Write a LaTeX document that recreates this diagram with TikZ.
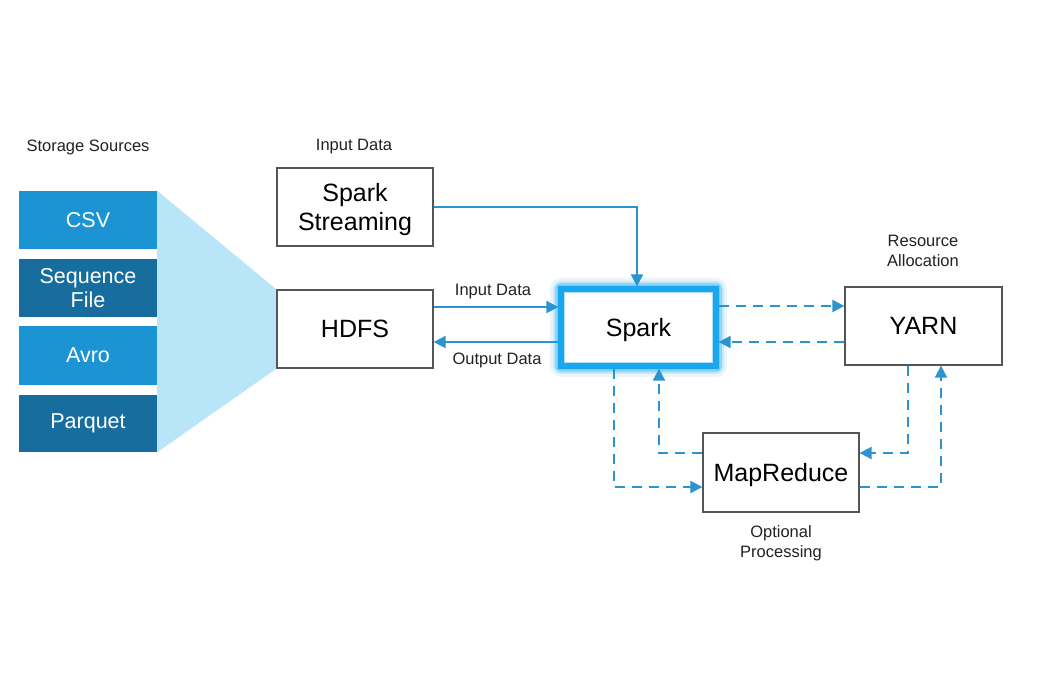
\documentclass[tikz,border=0pt]{standalone}
\usepackage{fontspec}
\setmainfont{Liberation Sans}
\usetikzlibrary{arrows.meta,backgrounds}
\definecolor{lblue}{HTML}{1C93D3}
\definecolor{dblue}{HTML}{176E9E}
\definecolor{fan}{HTML}{B8E5F8}
\definecolor{arr}{HTML}{2A93D0}
\definecolor{glowc}{HTML}{19A7F0}
\definecolor{boxgray}{HTML}{555555}
\definecolor{txt}{HTML}{222222}
\begin{document}
\begin{tikzpicture}[x=1pt,y=-1pt,
  store/.style={minimum width=138pt,inner sep=0pt,text=white,align=center,font=\fontsize{21.5}{24}\selectfont},
  box/.style={draw=boxgray,line width=1.3pt,fill=white,minimum width=156pt,minimum height=78pt,inner sep=0pt,align=center,font=\fontsize{25}{29}\selectfont,text=black,text depth=0pt},
  lbl/.style={align=center,text=txt,font=\fontsize{16.5}{20}\selectfont,inner sep=0pt},
  solidarr/.style={draw=arr,line width=2pt,-{Triangle[length=12pt,width=12pt]}},
  dasharr/.style={draw=arr,line width=2pt,dash pattern=on 10pt off 7pt,-{Triangle[length=12pt,width=12pt]}}
]
\useasboundingbox (0,0) rectangle (1049,675);

% storage sources
\node[store,fill=lblue,minimum height=58pt] (csv) at (88,220) {CSV};
\node[store,fill=dblue,minimum height=58pt] (seq) at (88,288) {Sequence\\File};
\node[store,fill=lblue,minimum height=59pt] (avro) at (88,355.5) {Avro};
\node[store,fill=dblue,minimum height=57pt] (parq) at (88,423.5) {Parquet};

% boxes
\node[box] (stream) at (355,207) {Spark\\Streaming};
\node[box] (hdfs) at (355,329) {HDFS};
\node[box,minimum width=153pt,minimum height=75pt,draw=none] (spark) at (638.5,327.5) {Spark};
\node[box,minimum width=157pt] (yarn) at (923.5,326) {YARN};
\node[box,minimum height=79pt] (mr) at (781,472.5) {MapReduce};

% background, fan and glow
\begin{scope}[on background layer]
\fill[white] (0,0) rectangle (1049,675);
\fill[fan] (csv.north east) -- (hdfs.north west) -- (hdfs.south west) -- (parq.south east) -- cycle;
\foreach \w/\o in {22/0.10,17/0.16,12/0.3} {
  \draw[glowc,line width=\w pt,opacity=\o,line join=round] (spark.south west) rectangle (spark.north east);
}
\end{scope}
\draw[glowc!70,line width=8pt,opacity=0.5] (spark.south west) rectangle (spark.north east);
\draw[glowc,line width=6pt] (spark.south west) rectangle (spark.north east);

% labels
\node[lbl] (ssl) at (88,147) {Storage Sources};
\node[lbl] (idl) at (354,147) {Input Data};
\node[lbl] (inl) at (493,292) {Input Data};
\node[lbl] (outl) at (497,360) {Output Data};
\node[lbl] (ral) at (923,251) {Resource\\Allocation};
\node[lbl] (opl) at (781,543) {Optional\\Processing};

% helper coordinates
\coordinate (yIn) at (0,307);
\coordinate (yOut) at (0,342);
\coordinate (yY1) at (0,306);
\coordinate (yY2) at (0,342);
\coordinate (yB) at (0,487);
\coordinate (yC) at (0,453);
\coordinate (xA) at (614,0);
\coordinate (xD) at (659,0);
\coordinate (xE) at (908,0);
\coordinate (xF) at (941,0);
\coordinate (xS) at (637,0);

% solid connectors
\draw[solidarr] (stream.east) -| ([yshift=3pt]spark.north -| xS);
\draw[solidarr] (hdfs.east |- yIn) -- ([xshift=-3pt]spark.west |- yIn);
\draw[solidarr] ([xshift=-3pt]spark.west |- yOut) -- (hdfs.east |- yOut);

% dashed connectors
\draw[dasharr] ([xshift=3pt]spark.east |- yY1) -- (yarn.west |- yY1);
\draw[dasharr] (yarn.west |- yY2) -- ([xshift=3pt]spark.east |- yY2);
\draw[dasharr] ([yshift=-3pt]spark.south -| xA) |- (mr.west |- yB);
\draw[dasharr] (mr.west |- yC) -| ([yshift=-3pt]spark.south -| xD);
\draw[dasharr] (yarn.south -| xE) |- (mr.east |- yC);
\draw[dasharr] (mr.east |- yB) -| (yarn.south -| xF);
\end{tikzpicture}
\end{document}
